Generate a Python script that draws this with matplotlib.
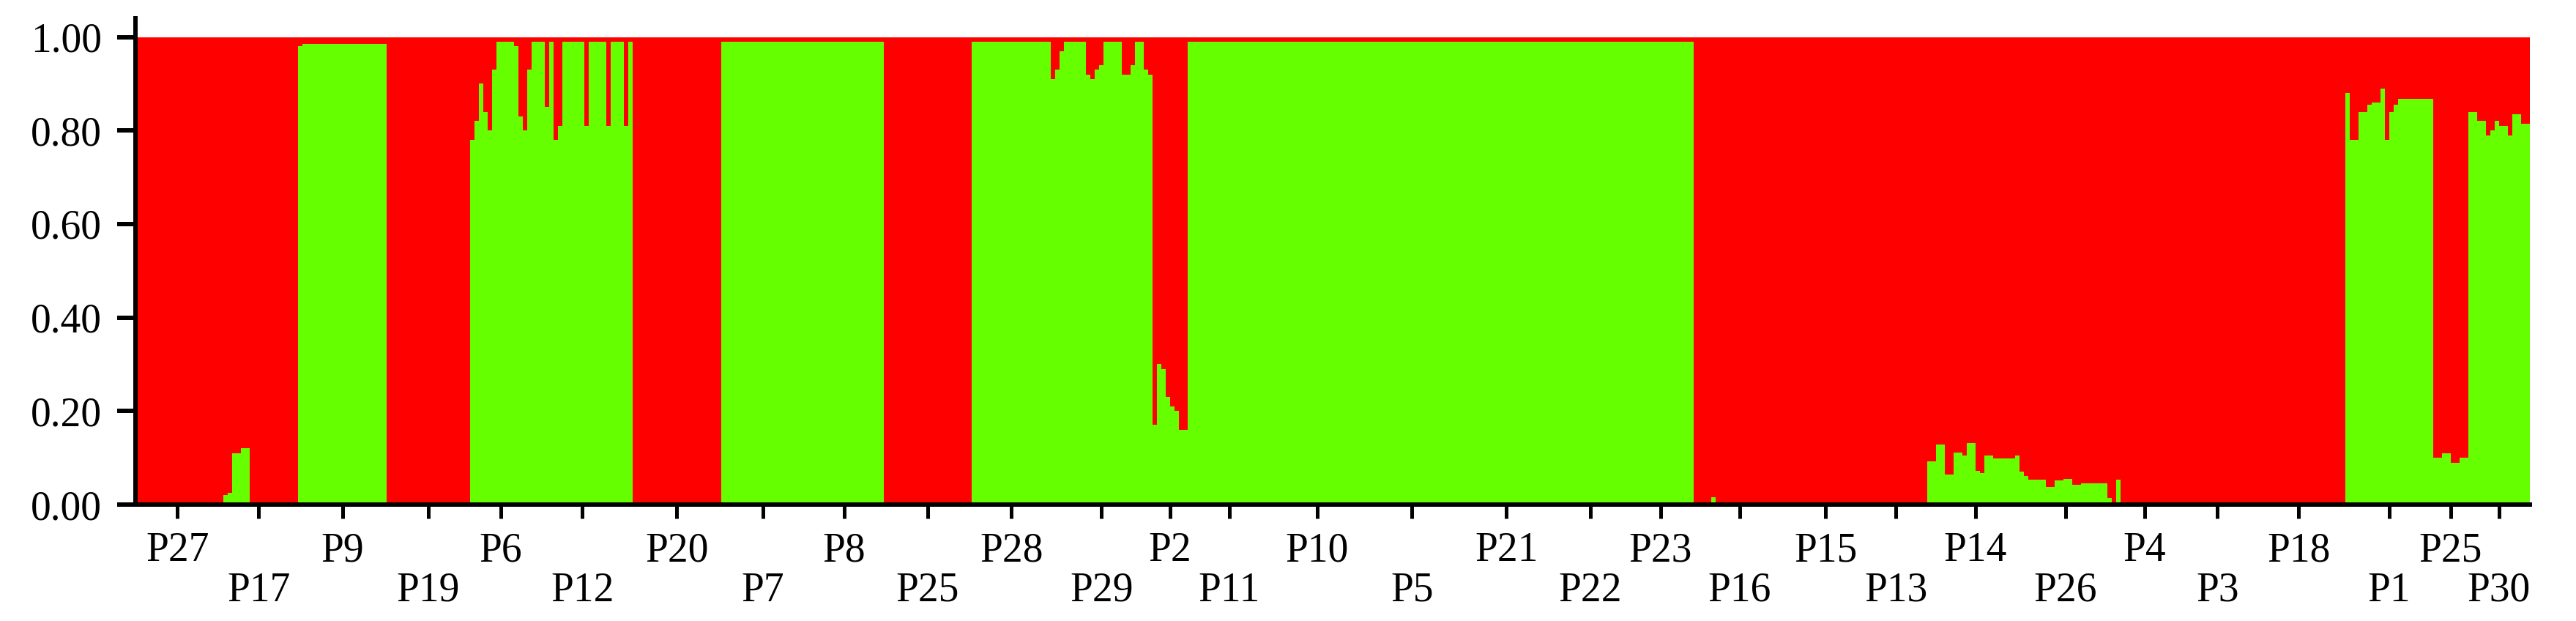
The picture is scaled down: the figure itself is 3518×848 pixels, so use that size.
import matplotlib.pyplot as plt
import numpy as np

plt.rcParams["font.family"] = ["Liberation Serif", "DejaVu Serif"]

# population order along the x axis (as printed in the figure)
pop_labels = ["P27", "P17", "P9", "P19", "P6", "P12", "P20", "P7", "P8", "P25",
              "P28", "P29", "P2", "P11", "P10", "P5", "P21", "P22", "P23", "P16",
              "P15", "P13", "P14", "P26", "P4", "P3", "P18", "P1", "P25", "P30"]

# membership in the green cluster for every individual, one list per population
q_P27 = [0, 0, 0, 0, 0, 0, 0, 0, 0, 0,
         0, 0, 0, 0, 0, 0, 0, 0, 0]
q_P17 = [0, 0.02, 0.025, 0.11, 0.11, 0.12, 0.12, 0, 0, 0,
         0, 0, 0, 0, 0, 0, 0, 0]
q_P9 = [0.98, 0.985, 0.985, 0.985, 0.985, 0.985, 0.985, 0.985, 0.985, 0.985,
        0.985, 0.985, 0.985, 0.985, 0.985, 0.985, 0.985, 0.985, 0.985, 0.985]
q_P19 = [0, 0, 0, 0, 0, 0, 0, 0, 0, 0,
         0, 0, 0, 0, 0, 0, 0, 0, 0]
q_P6 = [0.78, 0.82, 0.90, 0.84, 0.80, 0.93, 0.99, 0.99, 0.99, 0.99,
        0.98, 0.83, 0.80, 0.93]
q_P12 = [0.99, 0.99, 0.99, 0.85, 0.99, 0.78, 0.81, 0.99, 0.99, 0.99,
         0.99, 0.99, 0.81, 0.99, 0.99, 0.99, 0.99, 0.81, 0.99, 0.99,
         0.99, 0.81, 0.99]
q_P20 = [0, 0, 0, 0, 0, 0, 0, 0, 0, 0,
         0, 0, 0, 0, 0, 0, 0, 0, 0, 0]
q_P7 = [0.99, 0.99, 0.99, 0.99, 0.99, 0.99, 0.99, 0.99, 0.99, 0.99,
        0.99, 0.99, 0.99, 0.99, 0.99, 0.99, 0.99, 0.99, 0.99]
q_P8 = [0.99, 0.99, 0.99, 0.99, 0.99, 0.99, 0.99, 0.99, 0.99, 0.99,
        0.99, 0.99, 0.99, 0.99, 0.99, 0.99, 0.99, 0.99]
q_P25a = [0, 0, 0, 0, 0, 0, 0, 0, 0, 0,
          0, 0, 0, 0, 0, 0, 0, 0, 0, 0]
q_P28 = [0.99, 0.99, 0.99, 0.99, 0.99, 0.99, 0.99, 0.99, 0.99, 0.99,
         0.99, 0.99, 0.99, 0.99, 0.99, 0.99, 0.99, 0.99]
q_P29 = [0.91, 0.93, 0.97, 0.99, 0.99, 0.99, 0.99, 0.99, 0.92, 0.91,
         0.93, 0.94, 0.99, 0.99, 0.99, 0.99, 0.92, 0.92, 0.94, 0.99,
         0.99, 0.93, 0.92]
q_P2 = [0.17, 0.30, 0.29, 0.23, 0.21, 0.20, 0.16, 0.16]
q_P11 = [0.99, 0.99, 0.99, 0.99, 0.99, 0.99, 0.99, 0.99, 0.99, 0.99,
         0.99, 0.99, 0.99, 0.99, 0.99, 0.99, 0.99, 0.99, 0.99]
q_P10 = [0.99, 0.99, 0.99, 0.99, 0.99, 0.99, 0.99, 0.99, 0.99, 0.99,
         0.99, 0.99, 0.99, 0.99, 0.99, 0.99, 0.99, 0.99, 0.99, 0.99,
         0.99]
q_P5 = [0.99, 0.99, 0.99, 0.99, 0.99, 0.99, 0.99, 0.99, 0.99, 0.99,
        0.99, 0.99, 0.99, 0.99, 0.99, 0.99, 0.99, 0.99, 0.99, 0.99,
        0.99, 0.99]
q_P21 = [0.99, 0.99, 0.99, 0.99, 0.99, 0.99, 0.99, 0.99, 0.99, 0.99,
         0.99, 0.99, 0.99, 0.99, 0.99, 0.99, 0.99, 0.99, 0.99, 0.99,
         0.99]
q_P22 = [0.99, 0.99, 0.99, 0.99, 0.99, 0.99, 0.99, 0.99, 0.99, 0.99,
         0.99, 0.99, 0.99, 0.99, 0.99, 0.99, 0.99]
q_P23 = [0.99, 0.99, 0.99, 0.99, 0.99, 0.99, 0.99, 0.99, 0.99, 0.99,
         0.99, 0.99, 0.99, 0.99, 0.99]
q_P16 = [0, 0, 0, 0, 0.015, 0, 0, 0, 0, 0,
         0, 0, 0, 0, 0, 0, 0, 0, 0, 0,
         0]
q_P15 = [0, 0, 0, 0, 0, 0, 0, 0, 0, 0,
         0, 0, 0, 0, 0, 0, 0, 0]
q_P13 = [0, 0, 0, 0, 0, 0, 0, 0, 0, 0,
         0, 0, 0, 0]
q_P14 = [0.093, 0.093, 0.129, 0.129, 0.064, 0.064, 0.111, 0.111, 0.105, 0.132,
         0.132, 0.072, 0.067, 0.105, 0.105, 0.098, 0.098, 0.098, 0.098, 0.098,
         0.105, 0.07]
q_P26 = [0.061, 0.053, 0.053, 0.053, 0.053, 0.038, 0.038, 0.052, 0.052, 0.055,
         0.055, 0.043, 0.043, 0.045, 0.045, 0.045, 0.045, 0.045, 0.045]
q_P4 = [0.014, 0, 0.053, 0, 0, 0, 0.005, 0.005, 0.005, 0.005,
        0, 0, 0, 0, 0, 0, 0]
q_P3 = [0, 0, 0, 0, 0, 0, 0, 0, 0, 0,
        0, 0, 0, 0, 0, 0]
q_P18 = [0, 0, 0, 0, 0, 0, 0, 0, 0, 0,
         0, 0, 0, 0, 0, 0, 0, 0, 0, 0,
         0]
q_P1 = [0.88, 0.78, 0.78, 0.84, 0.84, 0.855, 0.86, 0.86, 0.89, 0.78,
        0.84, 0.855, 0.867, 0.867, 0.867, 0.867, 0.867, 0.867, 0.867, 0.867]
q_P25b = [0.10, 0.10, 0.11, 0.11, 0.09, 0.09, 0.10, 0.10]
q_P30 = [0.84, 0.84, 0.82, 0.82, 0.79, 0.80, 0.82, 0.81, 0.81, 0.79,
         0.835, 0.835, 0.815, 0.815]

populations = [q_P27, q_P17, q_P9, q_P19, q_P6, q_P12, q_P20, q_P7, q_P8, q_P25a,
               q_P28, q_P29, q_P2, q_P11, q_P10, q_P5, q_P21, q_P22, q_P23, q_P16,
               q_P15, q_P13, q_P14, q_P26, q_P4, q_P3, q_P18, q_P1, q_P25b, q_P30]

RED = "#ff0000"
GREEN = "#66ff00"

q = np.concatenate([np.asarray(p, dtype=float) for p in populations])
sizes = [len(p) for p in populations]
edges = np.concatenate([[0], np.cumsum(sizes)])
centers = (edges[:-1] + edges[1:]) / 2
x = np.arange(len(q))

fig = plt.figure(figsize=(35.18, 8.48), dpi=100)
ax = fig.add_axes([0.0526, 0.1875, 0.9295, 0.783])

ax.bar(x, q, width=1, align="edge", color=GREEN, lw=0, antialiased=False)
ax.bar(x, 1 - q, bottom=q, width=1, align="edge", color=RED, lw=0, antialiased=False)

ax.set_xlim(0, len(q))
ax.set_ylim(0, 1.04)

for side in ["top", "right"]:
    ax.spines[side].set_visible(False)
for side in ["left", "bottom"]:
    ax.spines[side].set_linewidth(4.3)

ax.set_yticks(np.arange(0, 1.01, 0.2))
ax.set_yticklabels([f"{v:.2f}" for v in np.arange(0, 1.01, 0.2)])
ax.tick_params(axis="y", length=18, width=4.3, pad=15, labelsize=40)

# labels alternate between two rows
ax.set_xticks(centers[::2])
ax.set_xticklabels(pop_labels[::2])
ax.set_xticks(centers[1::2], minor=True)
ax.set_xticklabels(pop_labels[1::2], minor=True)
ax.tick_params(axis="x", which="major", length=14, width=3.6, pad=13, labelsize=40)
ax.tick_params(axis="x", which="minor", length=14, width=3.6, pad=52, labelsize=40)

fig.savefig("out.png", dpi=100)
